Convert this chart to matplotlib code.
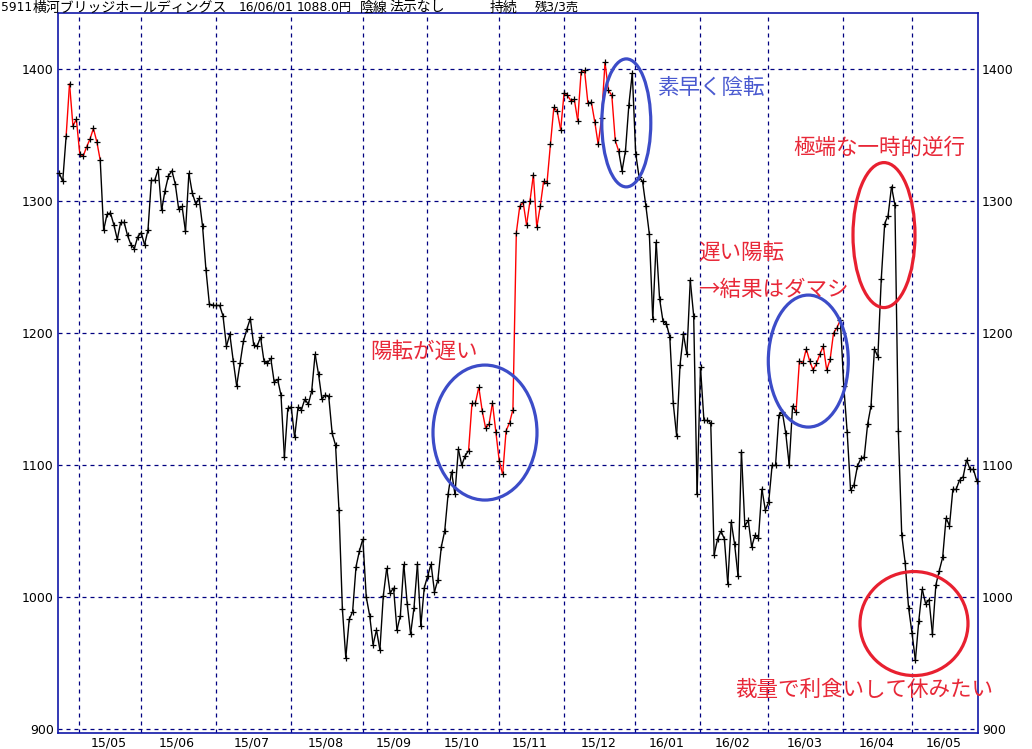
import matplotlib
matplotlib.use('Agg')
import matplotlib.pyplot as plt
from matplotlib.collections import LineCollection
from matplotlib.patches import Ellipse
import numpy as np

# ---- data (daily closes, 2015/04/22 .. 2016/06/01) ----
prices = [
    1321, 1315, 1349, 1389, 1357, 1362, 1336, 1334, 1341, 1347,
    1355, 1345, 1331, 1278, 1290, 1291, 1282, 1271, 1284, 1284,
    1274, 1267, 1264, 1273, 1276, 1267, 1278, 1316, 1316, 1324,
    1293, 1308, 1319, 1323, 1313, 1294, 1296, 1277, 1321, 1306,
    1298, 1302, 1281, 1248, 1222, 1221, 1221, 1221, 1213, 1190,
    1199, 1179, 1160, 1177, 1194, 1203, 1211, 1191, 1190, 1197,
    1179, 1177, 1181, 1163, 1165, 1153, 1106, 1143, 1144, 1121,
    1144, 1142, 1150, 1146, 1156, 1184, 1169, 1150, 1153, 1152,
    1124, 1115, 1066, 991, 954, 983, 989, 1023, 1035, 1044,
    1000, 986, 964, 975, 960, 1001, 1022, 1003, 1007, 975,
    986, 1025, 995, 972, 992, 1025, 978, 1007, 1016, 1025,
    1004, 1013, 1038, 1050, 1078, 1095, 1078, 1112, 1100, 1107,
    1111, 1147, 1147, 1159, 1141, 1128, 1131, 1147, 1125, 1103,
    1093, 1126, 1132, 1142, 1276, 1296, 1299, 1282, 1300, 1320,
    1280, 1296, 1315, 1314, 1343, 1371, 1368, 1354, 1382, 1380,
    1376, 1377, 1361, 1398, 1399, 1374, 1375, 1360, 1343, 1363,
    1405, 1384, 1380, 1346, 1338, 1323, 1338, 1373, 1397, 1336,
    1318, 1315, 1296, 1275, 1211, 1269, 1226, 1209, 1207, 1197,
    1147, 1122, 1176, 1199, 1184, 1240, 1213, 1078, 1174, 1134,
    1134, 1132, 1032, 1044, 1050, 1044, 1010, 1057, 1040, 1016,
    1110, 1054, 1058, 1038, 1047, 1045, 1082, 1066, 1072, 1100,
    1100, 1138, 1140, 1124, 1100, 1145, 1140, 1179, 1177, 1188,
    1179, 1172, 1177, 1184, 1190, 1172, 1180, 1200, 1204, 1210,
    1160, 1125, 1081, 1085, 1099, 1105, 1106, 1131, 1145, 1188,
    1182, 1241, 1283, 1289, 1311, 1297, 1126, 1047, 1026, 992,
    973, 952, 982, 1006, 995, 998, 972, 1009, 1020, 1030,
    1060, 1054, 1082, 1082, 1089, 1091, 1104, 1097, 1097, 1088,
]
# index of first trading day of each month
month_starts = [6, 24, 46, 68, 89, 108, 129, 148, 169, 188, 208, 230, 250]
month_labels = ['15/05', '15/06', '15/07', '15/08', '15/09', '15/10', '15/11',
                '15/12', '16/01', '16/02', '16/03', '16/04', '16/05']
# index ranges where the line is drawn red (buy-signal periods)
red_spans = [(2, 12), (120, 164), (216, 229)]
y_ticks = [900, 1000, 1100, 1200, 1300, 1400]

title_parts = ['5911', '横河ブリッジホールディングス', '16/06/01', '1088.0円',
               '陰線', '法示なし', '持続', '残3/3売']
title_x_px = [1, 33, 239, 297, 360, 389, 490, 535]

RED_T = '#e82838'
BLUE_T = '#4a5ad0'
RED_E = '#e82030'
BLUE_E = '#3c4cc8'
GRID = '#000080'
SPINE = '#1018a8'

W, H = 1032, 749
fig = plt.figure(figsize=(W / 100, H / 100), dpi=100)
fig.patch.set_facecolor('white')

ax_l, ax_r, ax_t, ax_b = 58, 978, 13, 733
ax = fig.add_axes([ax_l / W, 1 - ax_b / H, (ax_r - ax_l) / W, (ax_b - ax_t) / H])

x = np.arange(len(prices))
y = np.array(prices, dtype=float)
n = len(prices)

ax.set_xlim(-0.38, n - 1 + 0.36)
ax.set_ylim(897.0, 1442.5)

# grid
for m in month_starts:
    ax.axvline(m - 0.1, color=GRID, lw=0.9, ls=(0, (3.2, 3.2)), zorder=1)
for t in y_ticks:
    ax.axhline(t, color=GRID, lw=0.9, ls=(0, (3.2, 3.2)), zorder=1)

# coloured line
segs = np.stack([np.column_stack([x[:-1], y[:-1]]), np.column_stack([x[1:], y[1:]])], axis=1)
cols = []
for i in range(n - 1):
    red = any(a <= i < b for a, b in red_spans)
    cols.append('#ff0000' if red else '#000000')
lc = LineCollection(segs, colors=cols, linewidths=1.0, zorder=3)
ax.add_collection(lc)
ax.plot(x, y, ls='none', marker='+', ms=4.2, mew=0.9, color='black', zorder=4, clip_on=False)

# axes styling
for s in ax.spines.values():
    s.set_color(SPINE)
    s.set_linewidth(1.2)

ax.set_yticks(y_ticks)
ax.set_yticklabels([str(t) for t in y_ticks])
ax.tick_params(axis='y', length=0, pad=3, labelsize=9, labelright=True,
               colors='black', labelfontfamily='DejaVu Sans')
bounds = month_starts + [n - 1 + 0.36]
mids = [(bounds[i] + bounds[i + 1]) / 2 - 0.5 for i in range(len(month_starts))]
ax.set_xticks(mids)
ax.set_xticklabels(month_labels)
ax.tick_params(axis='x', length=0, pad=2.5, labelsize=9, labelfontfamily='DejaVu Sans')

# title line
title_fam = ['DejaVu Sans', 'Noto Sans CJK JP']
for s, px in zip(title_parts, title_x_px):
    fs = 10.0 if all(ord(c) > 0x2000 for c in s) else 8.8
    fig.text(px / W, 1 - 7.5 / H, s, ha='left', va='center', fontsize=fs,
             family=title_fam, color='black')

# annotations
jp = ['Noto Sans CJK JP', 'DejaVu Sans']

def px2d(px, py):
    xd = (px - 59.3) / 3.4107
    yd = 1400 - (py - 69) / 1.32
    return xd, yd

def ell(cx, cy, w, h, col):
    xd, yd = px2d(cx, cy)
    ax.add_patch(Ellipse((xd, yd), w / 3.4107, h / 1.32, fill=False, ec=col,
                         lw=2.3, zorder=5, clip_on=False))

ell(485, 432.5, 104, 135, BLUE_E)
ell(626.3, 122.8, 49, 128, BLUE_E)
ell(884, 235, 62, 145, RED_E)
ell(808.3, 361, 80, 132, BLUE_E)
ell(914, 623.5, 108, 104, RED_E)

def note(px, py, s, col):
    xd, yd = px2d(px, py)
    ax.text(xd, yd, s, ha='left', va='center', fontsize=15.5, family=jp,
            color=col, zorder=6)

note(370, 352, '陽転が遅い', RED_T)
note(657, 88, '素早く陰転', BLUE_T)
note(793, 148, '極端な一時的逆行', RED_T)
note(698, 253, '遅い陽転', RED_T)
note(698, 290, '→結果はダマシ', RED_T)
note(735, 690, '裁量で利食いして休みたい', RED_T)

fig.savefig('out.png', dpi=100, facecolor='white')
